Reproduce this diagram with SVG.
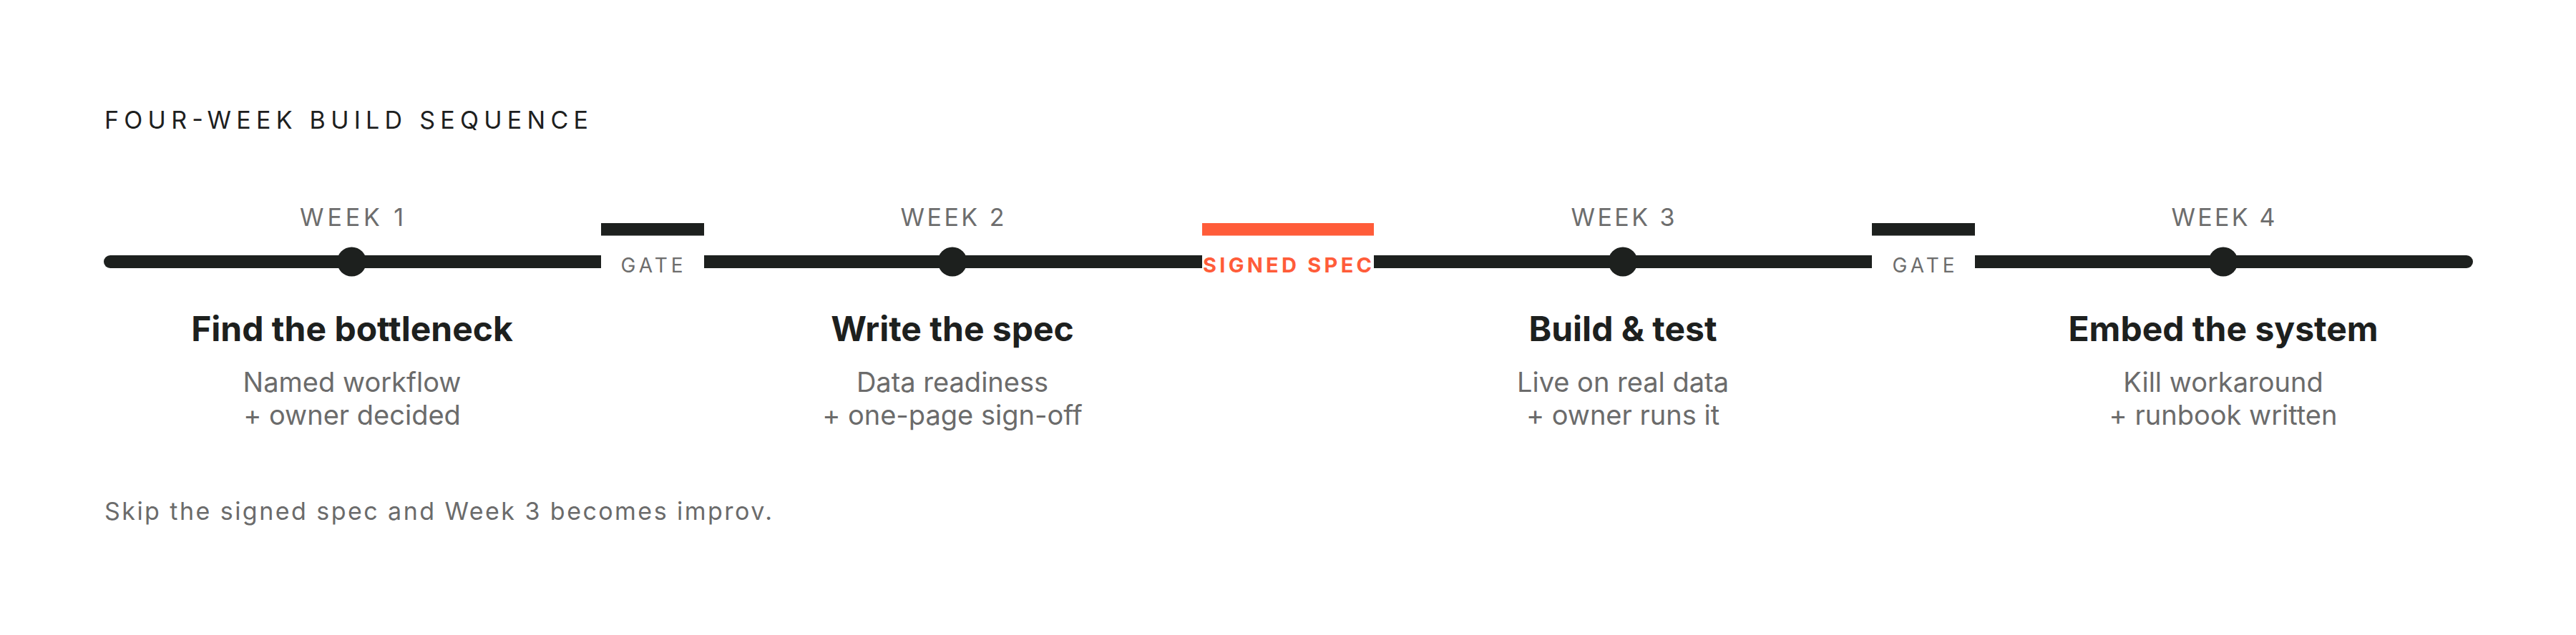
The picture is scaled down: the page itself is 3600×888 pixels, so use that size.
<svg xmlns="http://www.w3.org/2000/svg" width="3600" height="888" viewBox="0 0 3600 888">
  <style>
    .ink { fill: #1d201e; }
    .accent { fill: #ff5c39; }
    .title { font-family: Inter, "Liberation Sans", sans-serif; font-size: 34px; fill: #1d201e; }
    .week { font-family: Inter, "Liberation Sans", sans-serif; font-size: 34px; fill: #6d6d6d; text-anchor: middle; }
    .gate { font-family: Inter, "Liberation Sans", sans-serif; font-size: 28px; fill: #6d6d6d; text-anchor: middle; }
    .spec { font-family: Inter, "Liberation Sans", sans-serif; font-size: 29px; font-weight: 700; fill: #ff5c39; text-anchor: middle; }
    .head { font-family: Inter, "Liberation Sans", sans-serif; font-size: 48px; font-weight: 700; fill: #1d201e; text-anchor: middle; }
    .body { font-family: Inter, "Liberation Sans", sans-serif; font-size: 38px; fill: #6b6b6b; text-anchor: middle; }
    .note { font-family: Inter, "Liberation Sans", sans-serif; font-size: 34px; fill: #6b6b6b; }
  </style>
  <rect x="0" y="0" width="3600" height="888" fill="#ffffff"/>

  <text id="title" class="title" x="146" y="180" textLength="676" lengthAdjust="spacing">FOUR-WEEK BUILD SEQUENCE</text>

  <g id="connectors">
    <path class="ink" d="M154,357 H840 V375 H154 A9,9 0 0 1 154,357 Z"/>
    <rect class="ink" x="984" y="357" width="696" height="18"/>
    <rect class="ink" x="1920" y="357" width="696" height="18"/>
    <path class="ink" d="M2760,357 H3447 A9,9 0 0 1 3447,375 H2760 Z"/>
  </g>

  <g id="week1">
    <circle class="ink" cx="491.5" cy="366" r="20.5"/>
    <text class="week" x="491.5" y="316" textLength="145" lengthAdjust="spacing">WEEK 1</text>
    <text class="head" x="492" y="477">Find the bottleneck</text>
    <text class="body" x="492" y="548">Named workflow</text>
    <text class="body" x="492" y="594">+ owner decided</text>
  </g>

  <g id="gate1">
    <rect class="ink" x="840" y="312" width="144" height="17.5"/>
    <text class="gate" x="911" y="381" textLength="87" lengthAdjust="spacing">GATE</text>
  </g>

  <g id="week2">
    <circle class="ink" cx="1331" cy="366" r="20.5"/>
    <text class="week" x="1331" y="316" textLength="145" lengthAdjust="spacing">WEEK 2</text>
    <text class="head" x="1331" y="477">Write the spec</text>
    <text class="body" x="1331" y="548">Data readiness</text>
    <text class="body" x="1331" y="594">+ one-page sign-off</text>
  </g>

  <g id="signed-spec">
    <rect class="accent" x="1680" y="312" width="240" height="17.5"/>
    <text class="spec" x="1799" y="381" textLength="236" lengthAdjust="spacing">SIGNED SPEC</text>
  </g>

  <g id="week3">
    <circle class="ink" cx="2268" cy="366" r="20.5"/>
    <text class="week" x="2268" y="316" textLength="145" lengthAdjust="spacing">WEEK 3</text>
    <text class="head" x="2268" y="477">Build &amp; test</text>
    <text class="body" x="2268" y="548">Live on real data</text>
    <text class="body" x="2268" y="594">+ owner runs it</text>
  </g>

  <g id="gate2">
    <rect class="ink" x="2616" y="312" width="144" height="17.5"/>
    <text class="gate" x="2688" y="381" textLength="87" lengthAdjust="spacing">GATE</text>
  </g>

  <g id="week4">
    <circle class="ink" cx="3107" cy="366" r="20.5"/>
    <text class="week" x="3107" y="316" textLength="145" lengthAdjust="spacing">WEEK 4</text>
    <text class="head" x="3107" y="477">Embed the system</text>
    <text class="body" x="3107" y="548">Kill workaround</text>
    <text class="body" x="3107" y="594">+ runbook written</text>
  </g>

  <text id="footnote" class="note" x="146" y="727" textLength="933" lengthAdjust="spacing">Skip the signed spec and Week 3 becomes improv.</text>
</svg>
